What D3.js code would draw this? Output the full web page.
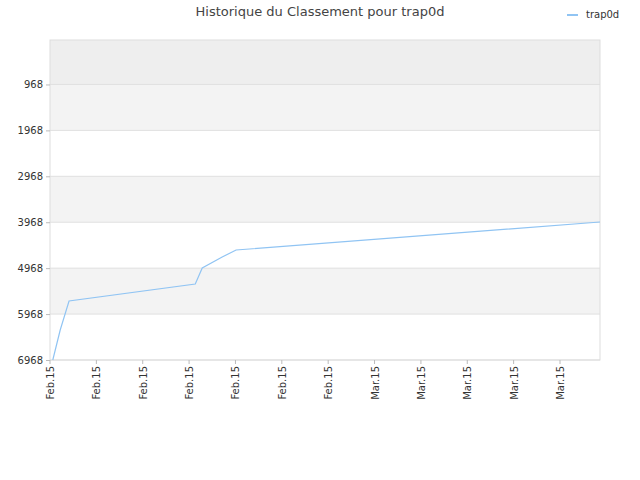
<!DOCTYPE html>
<html><head><meta charset="utf-8">
<script src="https://cdn.jsdelivr.net/npm/d3@7"></script>
<style>body{margin:0;background:#fff}text{font-family:"DejaVu Sans",sans-serif}</style>
</head><body><svg id="c" width="640" height="480"></svg>
<script>
var tickLabels = ["Feb.15","Feb.15","Feb.15","Feb.15","Feb.15","Feb.15","Feb.15","Mar.15","Mar.15","Mar.15","Mar.15","Mar.15"];
var yTicks = [968,1968,2968,3968,4968,5968,6968];
var posX = [0.06,0.22,0.41,3.13,3.28,3.71,4.01,11.85];
var ranks = [6968,6315,5683,5313,4965,4725,4573,3963];

var svg = d3.select("#c");
var x = d3.scaleLinear().domain([0,11.85]).range([50,600]);
var y = d3.scaleLinear().domain([0,6968]).range([40,360]);

// bandes
var bands = [0].concat(yTicks);
for (var i=0;i<bands.length-1;i++){
  var fill = i==0 ? "#eeeeee" : (i%2==1 ? "#f3f3f3" : "#ffffff");
  svg.append("rect").attr("x",50).attr("width",550)
    .attr("y",y(bands[i])).attr("height",y(bands[i+1])-y(bands[i])).attr("fill",fill);
}
yTicks.forEach(function(t){
  svg.append("line").attr("x1",50).attr("x2",600).attr("y1",y(t)).attr("y2",y(t)).attr("stroke","#e0e0e0");
});
svg.append("rect").attr("x",50).attr("y",40).attr("width",550).attr("height",320)
  .attr("fill","none").attr("stroke","#ddd");

svg.append("g").attr("transform","translate(50,0)")
  .call(d3.axisLeft(y).tickValues(yTicks).tickSize(4).tickFormat(d3.format("d")))
  .call(function(g){g.select(".domain").remove();g.selectAll("line").attr("stroke","#bbb");
    g.selectAll("text").attr("font-size",10).attr("fill","#333").attr("font-family","DejaVu Sans");});

var xg = svg.append("g").attr("transform","translate(0,360)");
var xs = d3.scaleLinear().domain([0,11]).range([50,560]);
tickLabels.forEach(function(l,i){
  xg.append("line").attr("x1",xs(i)).attr("x2",xs(i)).attr("y1",0).attr("y2",4).attr("stroke","#bbb");
  xg.append("text").attr("transform","translate("+(xs(i)+4)+",6) rotate(-90)")
    .attr("text-anchor","end").attr("font-size",10).attr("fill","#333").text(l);
});

svg.append("path").datum(posX.map(function(p,i){return [p,ranks[i]];}))
  .attr("d",d3.line().x(function(d){return x(d[0]);}).y(function(d){return y(d[1]);}))
  .attr("fill","none").attr("stroke","#90c4f3").attr("stroke-width",1.2);

svg.append("text").attr("x",320).attr("y",16).attr("text-anchor","middle")
  .attr("font-size",13).attr("fill","#444").text("Historique du Classement pour trap0d");
svg.append("line").attr("x1",567).attr("x2",578).attr("y1",15).attr("y2",15).attr("stroke","#90c4f3").attr("stroke-width",2);
svg.append("text").attr("x",586).attr("y",18).attr("font-size",10).attr("fill","#333").text("trap0d");
</script></body></html>
